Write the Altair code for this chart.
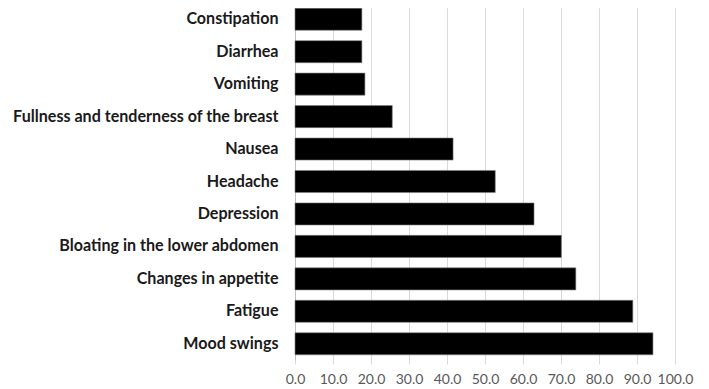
import altair as alt
import pandas as pd

categories = [
    "Constipation",
    "Diarrhea",
    "Vomiting",
    "Fullness and tenderness of the breast",
    "Nausea",
    "Headache",
    "Depression",
    "Bloating in the lower abdomen",
    "Changes in appetite",
    "Fatigue",
    "Mood swings",
]
values = [17.6, 17.6, 18.4, 25.6, 41.6, 52.7, 62.9, 70.1, 73.9, 88.9, 94.2]
x_ticks = [0, 10, 20, 30, 40, 50, 60, 70, 80, 90, 100]

df = pd.DataFrame({"symptom": categories, "pct": values})

chart = (
    alt.Chart(df)
    .mark_bar(color="black", stroke="#808080", strokeWidth=0.6)
    .encode(
        x=alt.X(
            "pct:Q",
            scale=alt.Scale(domain=[0, 100], nice=False),
            axis=alt.Axis(
                values=x_ticks,
                format=".1f",
                title=None,
                grid=True,
                gridColor="#d9d9d9",
                gridWidth=1,
                domain=False,
                ticks=True,
                tickColor="#d9d9d9",
                tickSize=4,
                labelFont="Lato",
                labelFontSize=14,
                labelColor="#595959",
                labelPadding=8,
                labelFlush=False,
            ),
        ),
        y=alt.Y(
            "symptom:N",
            sort=categories,
            scale=alt.Scale(paddingInner=0.32, paddingOuter=0.16),
            axis=alt.Axis(
                title=None,
                grid=False,
                domain=True,
                domainColor="#bfbfbf",
                ticks=False,
                labelFont="Lato",
                labelFontSize=16.1,
                labelFontWeight="bold",
                labelColor="#1a1a1a",
                labelPadding=17,
                labelLimit=400,
            ),
        ),
    )
    .properties(
        width=380,
        height=357,
        autosize=alt.AutoSizeParams(type="none"),
        padding={"left": 287, "top": -5, "right": 19, "bottom": 29},
    )
    .configure_view(stroke=None)
)

chart.save("out.html", embed_options={"renderer": "svg", "actions": False})
